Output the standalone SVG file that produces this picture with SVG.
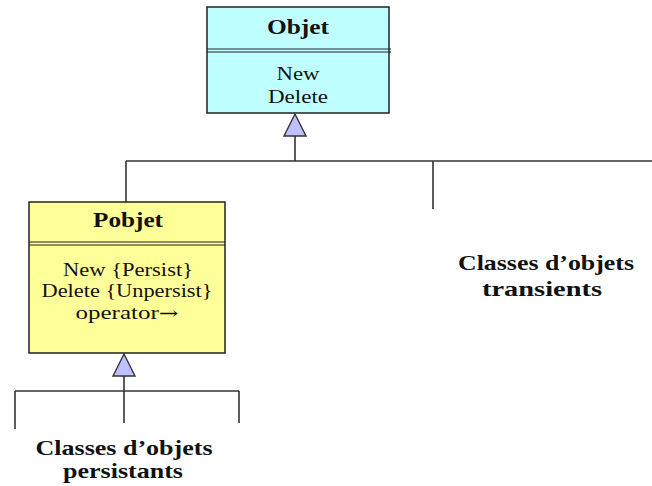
<svg xmlns="http://www.w3.org/2000/svg" width="652" height="486" viewBox="0 0 652 486">
  <style>
    .box { stroke: #222; stroke-width: 1.5; }
    .sep { stroke: #222; stroke-width: 1.2; }
    .wire { stroke: #333; stroke-width: 1.6; fill: none; }
    .gen { fill: #C0C0FF; stroke: #333; stroke-width: 1.4; }
    text { font-family: "Liberation Serif", "Times New Roman", serif; fill: #111; text-anchor: middle; }
    .title { font-size: 21px; font-weight: bold; }
    .op { font-size: 18px; }
    .lbl { font-size: 21px; font-weight: bold; }
    .arrow { font-family: "DejaVu Serif", serif; font-size: 17px; }
  </style>

  <rect width="652" height="486" fill="#fff"/>

  <!-- connectors -->
  <g id="connectors">
    <!-- tree under Objet -->
    <line class="wire" x1="295" y1="136" x2="295" y2="161"/>
    <line class="wire" x1="126" y1="161" x2="652" y2="161"/>
    <line class="wire" x1="126" y1="161" x2="126" y2="202"/>
    <line class="wire" x1="433" y1="161" x2="433" y2="209"/>
    <polygon class="gen" points="295,114 284,136 306,136"/>
    <!-- tree under Pobjet -->
    <line class="wire" x1="124" y1="376" x2="124" y2="423"/>
    <line class="wire" x1="15" y1="391" x2="239" y2="391"/>
    <line class="wire" x1="15" y1="391" x2="15" y2="429"/>
    <line class="wire" x1="239" y1="391" x2="239" y2="423"/>
    <polygon class="gen" points="124,354 113,376 135,376"/>
  </g>

  <!-- class Objet -->
  <g id="objet">
    <rect class="box" x="207" y="7" width="182" height="106" fill="#C0FFFF"/>
    <line class="sep" x1="207" y1="49" x2="391" y2="49"/>
    <line class="sep" x1="207" y1="52" x2="391" y2="52"/>
    <text class="title" x="298" y="34" textLength="62" lengthAdjust="spacingAndGlyphs">Objet</text>
    <text class="op" x="298" y="80" textLength="43" lengthAdjust="spacingAndGlyphs">New</text>
    <text class="op" x="298" y="103" textLength="60" lengthAdjust="spacingAndGlyphs">Delete</text>
  </g>

  <!-- class Pobjet -->
  <g id="pobjet">
    <rect class="box" x="29" y="202" width="196" height="151" fill="#FFFF99"/>
    <line class="sep" x1="29" y1="242" x2="225" y2="242"/>
    <line class="sep" x1="29" y1="245" x2="225" y2="245"/>
    <text class="title" x="128" y="227" textLength="70" lengthAdjust="spacingAndGlyphs">Pobjet</text>
    <text class="op" x="128" y="276" textLength="130" lengthAdjust="spacingAndGlyphs">New {Persist}</text>
    <text class="op" x="127" y="297" textLength="171" lengthAdjust="spacingAndGlyphs">Delete {Unpersist}</text>
    <text class="op" x="127" y="319" textLength="103" lengthAdjust="spacingAndGlyphs">operator<tspan class="arrow">→</tspan></text>
  </g>

  <!-- subclass families -->
  <g id="persistants">
    <text class="lbl" x="124" y="455" textLength="177" lengthAdjust="spacingAndGlyphs">Classes d’objets</text>
    <text class="lbl" x="123" y="478" textLength="120" lengthAdjust="spacingAndGlyphs">persistants</text>
  </g>
  <g id="transients">
    <text class="lbl" x="546" y="270" textLength="176" lengthAdjust="spacingAndGlyphs">Classes d’objets</text>
    <text class="lbl" x="542" y="296" textLength="120" lengthAdjust="spacingAndGlyphs">transients</text>
  </g>
</svg>
